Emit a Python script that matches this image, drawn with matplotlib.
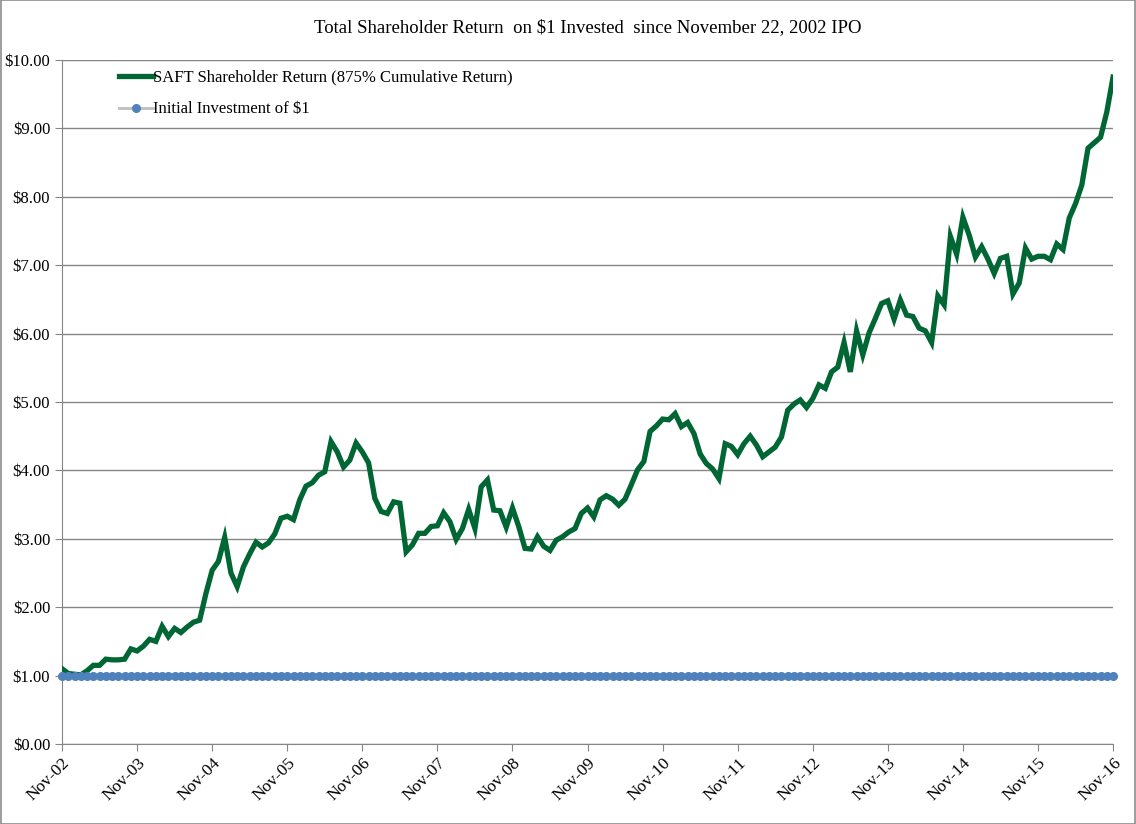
import numpy as np
import matplotlib
matplotlib.use('Agg')
import matplotlib.pyplot as plt
from matplotlib.patches import Rectangle

# monthly values, Nov-02 .. Nov-16
saft = [1.10, 1.03, 1.02, 1.01, 1.07, 1.15, 1.15, 1.24, 1.23, 1.23,
        1.24, 1.39, 1.36, 1.43, 1.53, 1.50, 1.72, 1.57, 1.69, 1.63,
        1.71, 1.78, 1.81, 2.20, 2.54, 2.67, 3.02, 2.50, 2.30, 2.59,
        2.78, 2.95, 2.88, 2.94, 3.07, 3.30, 3.33, 3.28, 3.57, 3.77,
        3.82, 3.93, 3.98, 4.42, 4.27, 4.05, 4.15, 4.40, 4.27, 4.11,
        3.59, 3.40, 3.37, 3.54, 3.52, 2.81, 2.91, 3.08, 3.08, 3.18,
        3.19, 3.38, 3.25, 2.99, 3.15, 3.43, 3.15, 3.76, 3.86, 3.42,
        3.41, 3.17, 3.45, 3.18, 2.86, 2.85, 3.03, 2.89, 2.83, 2.98,
        3.03, 3.10, 3.15, 3.37, 3.45, 3.32, 3.57, 3.63, 3.58, 3.49,
        3.58, 3.79, 4.01, 4.13, 4.57, 4.65, 4.75, 4.74, 4.83, 4.64,
        4.70, 4.54, 4.24, 4.10, 4.02, 3.88, 4.39, 4.35, 4.23, 4.39,
        4.50, 4.37, 4.20, 4.27, 4.34, 4.49, 4.88, 4.97, 5.03, 4.92,
        5.05, 5.25, 5.20, 5.44, 5.51, 5.87, 5.44, 6.04, 5.69, 6.01,
        6.22, 6.44, 6.48, 6.21, 6.49, 6.27, 6.25, 6.08, 6.04, 5.87,
        6.55, 6.42, 7.42, 7.16, 7.70, 7.44, 7.12, 7.27, 7.09, 6.88,
        7.10, 7.13, 6.58, 6.74, 7.25, 7.09, 7.13, 7.13, 7.08, 7.31,
        7.23, 7.69, 7.90, 8.17, 8.71, 8.79, 8.87, 9.24, 9.75]
initial = [1.0] * len(saft)
year_labels = ['Nov-%02d' % y for y in range(2, 17)]

plt.rcParams['font.family'] = ['Liberation Serif', 'DejaVu Serif']

fig = plt.figure(figsize=(11.36, 8.24), dpi=100)
ax = fig.add_axes([0.0546, 0.0971, 0.9252, 0.8301])

# chart area border
fig.patches.append(Rectangle((0.0005, 0.0005), 0.999, 0.999, transform=fig.transFigure,
                             fill=False, edgecolor='#8c8c8c', linewidth=1.2))

months = np.arange(len(saft))
ax.plot(months, saft, color='#006633', linewidth=3.8, solid_joinstyle='miter',
        label='SAFT Shareholder Return (875% Cumulative Return)', zorder=3)
ax.plot(months, initial, color='#bfbfbf', linewidth=2, marker='o', markersize=5.5,
        markerfacecolor='#4f81bd', markeredgecolor='#4f81bd',
        label='Initial Investment of $1', zorder=4, clip_on=False)

ax.set_xlim(0, len(saft) - 1)
ax.set_ylim(0, 10)
ax.set_yticks(np.arange(0, 11, 1))
ax.set_yticklabels(['$%.2f' % v for v in range(11)], fontsize=12)
ax.set_xticks(np.arange(0, len(saft), 12))
ax.set_xticklabels(year_labels, rotation=45, ha='right', rotation_mode='anchor', fontsize=12.5)

ax.grid(axis='y', color='#868686', linewidth=1)
ax.set_axisbelow(True)
for s in ['top', 'right']:
    ax.spines[s].set_visible(False)
for s in ['left', 'bottom']:
    ax.spines[s].set_color('#868686')
ax.tick_params(axis='both', color='#868686', length=5, direction='out')
ax.tick_params(axis='x', pad=3)

ax.set_title('Total Shareholder Return  on $1 Invested  since November 22, 2002 IPO',
             fontsize=13.5, pad=20)

leg = ax.legend(loc='upper left', bbox_to_anchor=(0.04, 1.008), frameon=False,
                fontsize=12, handlelength=2.05, handletextpad=0.0, labelspacing=0.95)

fig.savefig('out.png', dpi=100)
